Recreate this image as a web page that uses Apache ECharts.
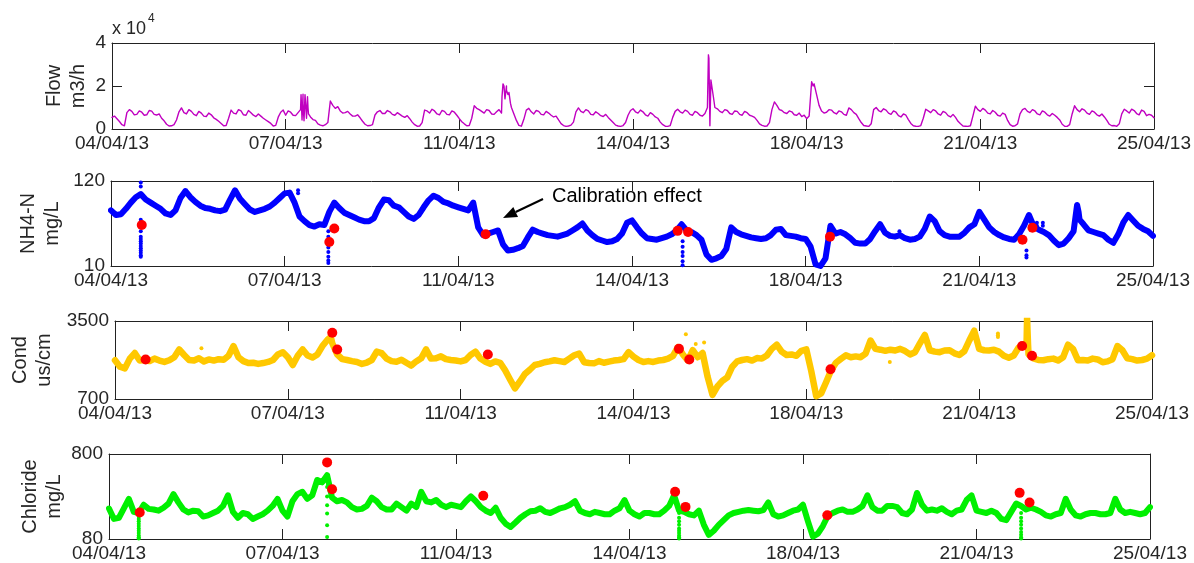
<!DOCTYPE html>
<html><head><meta charset="utf-8">
<script src="https://cdn.jsdelivr.net/npm/echarts@6/dist/echarts.min.js"></script>
<style>html,body{margin:0;padding:0;background:#fff}#c{width:1194px;height:563px}</style>
</head><body><div id="c"></div>
<script>
// ---- x axis (days since 04/04/13 00:00) ----
const xTickLabels = ['04/04/13','07/04/13','11/04/13','14/04/13','18/04/13','21/04/13','25/04/13'];
const tickStepDays = 3.5;
const sampleStepDays = 0.1;

// ---- Flow (m3/h), one value every 0.1 day ----
const flowValues = [
 5400,4800,2000,7600,8200,6800,7800,6600,8300,6500,
 5000,2200,1500,4200,9800,7000,8200,6200,7400,5800,
 6600,4500,2600,1600,8800,7000,8400,6400,7600,5800,
 6000,4200,2600,1700,7800,6400,7800,6200,9000,15500,
 5600,4000,1800,2000,13000,9600,8400,7600,7000,6000,
 5200,2200,1600,6500,8600,7200,8000,6400,6800,5400,
 4800,2000,1400,8800,7400,8400,6600,8200,6600,7800,
 4800,2400,1600,10800,9000,7400,8600,6800,9000,20000,
 17000,7000,1700,4500,9600,7000,8200,6600,7400,5600,
 4200,1600,1400,3200,9800,7600,8400,6600,7200,5800,
 5400,3000,1400,1600,6400,9400,7400,8000,6000,6800,
 5000,2000,1200,5400,9200,7400,8200,6400,7600,6000,
 10000,22000,9400,7600,8600,6800,8200,6400,7600,6000,
 4000,1700,1400,9000,11000,8600,7200,8000,6400,5800,
 4800,22000,16000,8400,7800,8800,7000,8000,6400,9000,
 6800,3000,1400,2400,10000,8000,8800,6800,7800,5600,
 6400,2600,1300,1600,9200,7600,8400,6400,7600,5600,
 5400,2400,1300,1500,10600,8200,8800,7000,7800,6000,
 6800,2000,1500,7000,9600,7600,8400,6600,7800,6000,
 6400,4200,1300,2000,10800,8000,8800,6800,7800,6000,
 5600,2200,1600,2400,9200,7400,8600,6600,8200,6800,
 5200
];
// values read half-way between the 0.1-day samples (t = 0.05, 0.15, ...)
const flowMidValues = [
 6000,3500,1500,9000,6600,8400,6400,8600,6800,7000,
 3800,1400,2000,8000,7600,9000,6800,8200,6000,7400,
 5200,3600,1500,5000,7400,9000,6600,8600,6400,7000,
 5000,3400,1400,5500,8800,8400,6400,7600,12000,10000,
 4400,2400,1500,3000,11000,10400,7400,8200,6000,6600,
 3600,1500,2000,8000,7200,8600,6800,7600,6000,6200,
 3200,1300,3000,8400,9200,7000,8600,6800,8400,6400,
 3400,1500,5000,9600,8200,9000,7000,8000,7400,18000,
 10000,4000,1300,8800,8000,8600,6800,8200,6400,6000,
 2500,1200,1800,8000,8200,9000,6800,8000,6200,6800,
 4200,1800,1200,3000,8600,8000,8800,6600,7600,5600,
 3200,1300,1600,8200,8000,8800,6800,8200,6400,7200,
 1500,10000,8200,9000,7200,8400,6800,8200,6400,5400,
 2400,1300,3000,12600,9000,7600,8400,6600,7400,6400,
 6000,21000,11000,7400,9000,7600,8400,6800,9800,7600,
 4800,1600,1200,9000,8600,9400,7400,8400,6200,7000,
 4400,1500,1200,5000,8400,9000,7000,8200,6200,6800,
 3600,1400,1200,6000,9000,9600,7400,8600,6400,7400,
 4000,1300,2400,9000,8200,9000,7000,8400,6600,7200,
 5400,2200,1200,7000,9000,9400,7400,8400,6600,7000,
 4000,1500,1300,7000,8400,9200,7200,8800,6200,6400
];
const flowBursts = [
 [3.81,16000],[3.83,4200],[3.85,16200],[3.87,3800],[3.89,16000],[3.92,5000],[3.94,15000],[3.96,7000],
 [7.86,15000],[7.88,21000],[7.92,14000],[7.95,20000],[7.98,16000],[8.03,12000],
 [12.02,34500],[12.03,33000],[12.05,1500],[12.07,22800],[12.12,15000],[12.15,10000],
 [14.13,20000],[14.16,21000]
];

// ---- NH4-N (mg/L) ----
const nh4Values = [
 82,76,77,84,92,99,103,96,92,88,
 84,78,76,82,98,107,99,93,88,85,
 84,82,81,83,96,108,97,90,83,80,
 82,84,87,92,98,104,105,92,74,68,
 63,61,64,63,80,92,85,79,76,73,
 70,68,68,72,86,96,95,88,86,80,
 74,71,76,86,95,101,98,93,91,88,
 86,84,82,92,60,50,52,54,56,38,
 30,31,33,36,47,57,54,52,50,49,
 48,50,52,56,60,65,56,50,45,43,
 41,42,45,52,66,69,60,52,46,45,
 44,46,48,51,56,64,56,54,50,44,
 25,18,20,23,32,60,54,51,49,47,
 46,45,46,50,57,58,50,49,48,46,
 45,35,12,10,20,62,52,54,51,46,
 40,39,39,45,55,64,53,49,48,50,
 46,44,45,48,58,74,68,55,50,48,
 48,48,53,60,64,80,70,60,54,50,
 47,45,44,51,62,76,61,57,54,50,
 43,37,39,46,55,80,64,56,54,52,
 50,44,40,51,66,76,69,62,58,55,
 49
];
const nh4Extra = [[19.47,89],[19.52,70]];
const nh4Outliers = [
 [0.6,118],[0.6,113],[0.6,70],[0.6,61],[0.6,55],[0.6,48],[0.6,45],[0.6,42],[0.6,39],[0.6,36],[0.6,33],[0.6,30],[0.6,27],[0.6,24],[0.6,22],
 [3.77,108],[3.77,104],
 [4.38,55],[4.38,48],[4.38,40],[4.38,34],[4.38,28],[4.38,22],[4.38,17],[4.38,14],
 [7.38,72],[7.38,64],
 [11.52,42],[11.52,35],[11.52,28],[11.52,23],[11.52,16],[11.52,11],
 [15.89,55],
 [18.45,30],[18.45,24],[18.45,21],
 [18.66,66],[18.66,62],[18.78,66],[18.78,62]
];

// ---- Conductivity (us/cm) ----
const condValues = [
 2090,1860,1800,2150,2350,2080,2100,2060,2150,2080,
 2030,2090,2200,2480,2280,2100,2080,2160,2050,2120,
 2080,2130,2110,2250,2600,2200,2060,1990,2000,1960,
 1990,2030,2100,2300,2380,2200,1920,2250,2480,2260,
 2190,2300,2600,2820,2700,2300,2130,2100,2060,2030,
 1960,2010,2100,2400,2350,2150,2060,2040,2110,2000,
 1900,2050,2160,2480,2150,2160,2230,2130,2100,2080,
 2050,2100,2280,2400,2150,2040,1960,2050,2000,1730,
 1400,1080,1330,1600,1750,1920,1960,2020,2050,2090,
 2060,2030,2150,2270,2330,2020,1990,1980,2060,2000,
 2040,2080,2100,2130,2380,2220,2100,2030,2060,2030,
 2080,2100,2150,2250,2560,2300,2080,2450,2200,2350,
 1500,850,1150,1350,1480,1860,2050,2100,2130,2080,
 2170,2150,2260,2500,2650,2400,2280,2300,2250,2430,
 2480,1700,800,900,1300,1720,2000,2140,2270,2200,
 2230,2200,2330,2800,2500,2470,2430,2470,2440,2500,
 2420,2300,2380,2700,3000,2450,2400,2380,2440,2450,
 2340,2280,2420,2800,3150,2500,2450,2440,2470,2400,
 2250,2180,2260,2550,2650,2300,2160,2100,2090,2130,
 2150,2080,2200,2650,2500,2090,2100,2080,2150,2120,
 2020,2050,2130,2600,2450,2160,2130,2080,2100,2150,
 2270
];
const condExtra = [[4.37,2930],[18.46,2700],[18.47,3600],[18.48,3600],[18.49,2650]];
const condOutliers = [[1.75,2520],[11.56,3020],[11.76,2670],[11.93,2730],[15.69,2030],[17.88,3050],[17.88,2990],[17.88,2930]];

// ---- Chloride (mg/L) ----
const clValues = [
 338,250,260,340,420,310,300,370,335,330,
 320,345,380,460,390,330,305,320,315,270,
 280,300,320,360,450,310,260,300,290,250,
 270,290,320,360,420,320,270,400,460,480,
 420,450,580,560,620,430,400,410,390,350,
 330,335,360,430,400,350,330,330,380,350,
 320,380,350,480,400,390,410,370,350,370,
 360,350,400,440,400,350,320,300,345,260,
 210,182,220,260,290,315,320,340,310,300,
 320,340,350,370,400,320,300,290,310,300,
 290,290,320,340,410,320,290,270,300,300,
 290,290,320,360,450,320,310,290,280,320,
 200,115,150,200,240,280,300,310,320,325,
 320,315,325,390,290,270,280,300,320,330,
 370,230,100,125,190,275,300,320,330,310,
 310,330,360,450,350,320,320,360,360,350,
 300,290,330,470,370,320,330,320,340,310,
 290,320,330,410,450,320,310,300,320,300,
 250,240,310,380,360,330,345,330,310,280,
 270,290,300,420,330,280,270,290,300,300,
 290,290,300,420,330,300,310,300,290,300,
 350
];
const clOutliers = [
 [0.6,290],[0.6,270],[0.6,250],[0.6,230],[0.6,210],[0.6,190],[0.6,170],[0.6,150],[0.6,130],[0.6,110],[0.6,95],[0.6,84],
 [4.4,600],[4.4,520],[4.4,440],[4.4,366],[4.4,295],[4.4,196],[4.4,97],
 [11.5,300],[11.5,260],[11.5,230],[11.5,200],[11.5,170],[11.5,150],[11.5,130],[11.5,110],[11.5,95],[11.5,84],
 [18.4,300],[18.4,260],[18.4,230],[18.4,200],[18.4,170],[18.4,140],[18.4,115],[18.4,95],[18.4,84]
];

// ---- Lab grab samples (red) ----
const labTimes = [0.62, 4.4, 4.5, 7.55, 11.42, 11.63, 14.49, 18.37, 18.57];
const labNH4  = [63, 41, 58.6, 51, 55.5, 54, 48, 44, 59.5];
const labCond = [2120, 3080, 2475, 2300, 2500, 2120, 1770, 2605, 2250];
const labCl   = [304, 729, 502, 446, 480, 352, 281, 471, 389];

// ---------------------------------------------------------------
function toSeries(vals, extra) {
  const pts = vals.map((v, i) => [Math.round(i * sampleStepDays * 100) / 100, v]);
  return pts.concat(extra || []).sort((a, b) => a[0] - b[0]);
}
function midPts(vals) {
  return vals.map((v, i) => [Math.round((i + 0.5) * sampleStepDays * 100) / 100, v]);
}
function labPts(vals) { return labTimes.map((t, i) => [t, vals[i]]); }

const FONT = '"Liberation Sans", Arial, sans-serif';
const TXT = '#262626';
const LINE = '#222';

const grids = [
  {left:112, top:43, width:1042, height:86},
  {left:111, top:181, width:1042, height:85},
  {left:110, top:321, width:1042, height:78},
  {left:109, top:454, width:1041, height:85}
];
const yCfg = [
  {min:0, max:40000, interval:20000, fmt: v => String(v / 10000), name:'Flow\nm3/h', gap:22},
  {min:10, max:120, custom:[10,120], name:'NH4-N\nmg/L', gap:47},
  {min:700, max:3500, custom:[700,3500], name:'Cond\nus/cm', gap:59},
  {min:80, max:800, custom:[80,800], name:'Chloride\nmg/L', gap:43}
];

const xAxis = [], yAxis = [];
grids.forEach((g, i) => {
  const base = {
    gridIndex:i, type:'value', min:0, max:21, interval:tickStepDays,
    axisLine:{show:true, onZero:false, lineStyle:{color:LINE, width:1}},
    axisTick:{show:true, inside:true, length:10, lineStyle:{color:LINE, width:1}},
    splitLine:{show:false}
  };
  xAxis.push(Object.assign({}, base, {position:'bottom',
    axisLabel:{show:true, margin:5, fontSize:19, fontFamily:FONT, color:TXT,
      formatter: v => xTickLabels[Math.round(v / tickStepDays)]}}));
  xAxis.push(Object.assign({}, base, {position:'top', axisLabel:{show:false}}));

  const c = yCfg[i];
  const yb = {
    gridIndex:i, type:'value', min:c.min, max:c.max,
    axisLine:{show:true, onZero:false, lineStyle:{color:LINE, width:1}},
    splitLine:{show:false}
  };
  if (c.interval) yb.interval = c.interval;
  const tick = {show:true, inside:true, length:10, lineStyle:{color:LINE, width:1}};
  if (c.custom) tick.customValues = c.custom;
  const lab = {show:true, margin:6, fontSize:19, fontFamily:FONT, color:TXT,
    formatter: c.fmt || (v => String(v))};
  if (c.custom) lab.customValues = c.custom;
  yAxis.push(Object.assign({}, yb, {position:'left', axisTick:tick, axisLabel:lab,
    name:c.name, nameLocation:'middle', nameRotate:90, nameGap:c.gap, nameMoveOverlap:false,
    nameTextStyle:{fontSize:20, fontFamily:FONT, color:TXT, lineHeight:24}}));
  yAxis.push(Object.assign({}, yb, {position:'right', axisTick:Object.assign({}, tick), axisLabel:{show:false}}));
});

function lineS(gi, data, color, width) {
  return {type:'line', xAxisIndex:2*gi, yAxisIndex:2*gi, data, showSymbol:false, symbol:'none',
    lineStyle:{color, width, join:'round', cap:'round'}, itemStyle:{color}, z:2, silent:true};
}
function dotS(gi, data, color, size, z) {
  return {type:'scatter', xAxisIndex:2*gi, yAxisIndex:2*gi, data, symbol:'circle', symbolSize:size,
    itemStyle:{color, opacity:1}, z:z, silent:true};
}
const BLUE = '#0000ff', YEL = '#ffc800', GRN = '#00f000', RED = '#ff0000', MAG = '#c000c0';

const flowData = toSeries(flowValues, flowBursts.concat(midPts(flowMidValues)));

const series = [
  lineS(0, flowData, MAG, 1.4),
  lineS(1, toSeries(nh4Values, nh4Extra), BLUE, 6),
  dotS(1, nh4Outliers, BLUE, 4, 3),
  dotS(1, labPts(labNH4), RED, 10, 5),
  lineS(2, toSeries(condValues, condExtra), YEL, 6.5),
  dotS(2, condOutliers, YEL, 4, 3),
  dotS(2, labPts(labCond), RED, 10, 5),
  lineS(3, toSeries(clValues), GRN, 6),
  dotS(3, clOutliers, GRN, 4, 3),
  dotS(3, labPts(labCl), RED, 10, 5)
];

// arrow annotation geometry
const tip = [503, 218], tail = [543, 199];
const dx = tip[0] - tail[0], dy = tip[1] - tail[1], L = Math.hypot(dx, dy);
const ux = dx / L, uy = dy / L, nx = -uy, ny = ux, HL = 14, HW = 5.5;
const bx = tip[0] - HL * ux, by = tip[1] - HL * uy;

const chart = echarts.init(document.getElementById('c'), null, {renderer:'canvas'});
chart.setOption({
  animation:false,
  backgroundColor:'#ffffff',
  grid:grids,
  xAxis, yAxis, series,
  graphic:[
    {type:'text', left:112, top:20, style:{text:'x 10', font:'18px "Liberation Sans", Arial, sans-serif', fill:TXT}},
    {type:'text', left:148, top:13, style:{text:'4', font:'12px "Liberation Sans", Arial, sans-serif', fill:TXT}},
    {type:'text', x:552, y:196, style:{text:'Calibration effect', font:'20px "Liberation Sans", Arial, sans-serif', fill:'#000', verticalAlign:'middle', align:'left'}},
    {type:'line', shape:{x1:tail[0], y1:tail[1], x2:bx, y2:by}, style:{stroke:'#000', lineWidth:2}},
    {type:'polygon', shape:{points:[[tip[0], tip[1]], [bx + HW*nx, by + HW*ny], [bx - HW*nx, by - HW*ny]]}, style:{fill:'#000'}}
  ]
});
</script>
</body></html>
